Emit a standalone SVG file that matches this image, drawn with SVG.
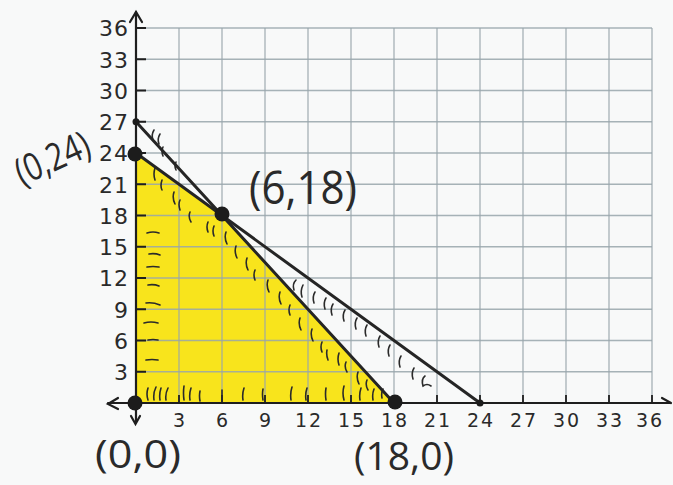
<svg xmlns="http://www.w3.org/2000/svg" width="673" height="485" viewBox="0 0 673 485">
<style>
.grid{stroke:#98a6ab;stroke-width:1.3;opacity:0.85;fill:none}
.axis{stroke:#1e1e1e;stroke-width:2.2;fill:none;stroke-linecap:round}
.tick{stroke:#1e1e1e;stroke-width:1.8}
.ylab{font-family:"DejaVu Sans",sans-serif;font-size:22px;fill:#2a2a2a;text-anchor:end;letter-spacing:1px}
.xlab{font-family:"DejaVu Sans",sans-serif;font-size:19px;fill:#2a2a2a;text-anchor:middle;letter-spacing:2px}
.line{stroke:#252525;stroke-width:3;fill:none;stroke-linecap:round}
.dot{fill:#1c1c1c}
.hand{font-family:"Open Sans","DejaVu Sans",sans-serif;fill:#2a2a2a}
.hatch{stroke:#2a2a2a;stroke-width:1.6;fill:none;stroke-linecap:round}
</style>
<rect width="673" height="485" fill="#f8f9f9"/>
<g id="feasible-region">
<polygon points="136,403 136,153 222,215.5 394,403" fill="#f8e41c"/>
</g>
<g id="grid">
<path class="grid" d="M179,28V403M222,28V403M265,28V403M308,28V403M351,28V403M394,28V403M437,28V403M480,28V403M523,28V403M566,28V403M609,28V403M652,28V403"/>
<path class="grid" d="M136,28H652M136,59.25H652M136,90.5H652M136,121.75H652M136,153H652M136,184.25H652M136,215.5H652M136,246.75H652M136,278H652M136,309.25H652M136,340.5H652M136,371.75H652"/>
</g>
<g id="axes">
<path class="axis" d="M136,12V422"/>
<path class="axis" d="M108,403H670"/>
<path class="axis" d="M130,22L136,12L142,22"/>
<path class="axis" d="M118,398L108,404L118,409"/>
<path class="axis" d="M131,416L135.5,424L140,416"/>
<path class="axis" d="M662,398L671,403"/>
<path class="tick" d="M136,28H146M136,59.25H146M136,90.5H146M136,121.75H146M136,153H146M136,184.25H146M136,215.5H146M136,246.75H146M136,278H146M136,309.25H146M136,340.5H146M136,371.75H146"/>
<path class="tick" d="M179,403V395M222,403V395M265,403V395M308,403V395M351,403V395M394,403V395M437,403V395M480,403V395M523,403V395M566,403V395M609,403V395M652,403V395"/>
</g>
<g id="y-labels">
<text class="ylab" x="129" y="36">36</text>
<text class="ylab" x="129" y="67.5">33</text>
<text class="ylab" x="129" y="98.5">30</text>
<text class="ylab" x="129" y="130">27</text>
<text class="ylab" x="129" y="161">24</text>
<text class="ylab" x="129" y="192.5">21</text>
<text class="ylab" x="129" y="223.5">18</text>
<text class="ylab" x="129" y="255">15</text>
<text class="ylab" x="129" y="286">12</text>
<text class="ylab" x="129" y="317.5">9</text>
<text class="ylab" x="129" y="348.5">6</text>
<text class="ylab" x="129" y="380">3</text>
</g>
<g id="x-labels">
<text class="xlab" x="180" y="426.5">3</text>
<text class="xlab" x="223" y="426.5">6</text>
<text class="xlab" x="266" y="426.5">9</text>
<text class="xlab" x="309" y="426.5">12</text>
<text class="xlab" x="352" y="426.5">15</text>
<text class="xlab" x="395" y="426.5">18</text>
<text class="xlab" x="438" y="426.5">21</text>
<text class="xlab" x="481" y="426.5">24</text>
<text class="xlab" x="524" y="426.5">27</text>
<text class="xlab" x="567" y="426.5">30</text>
<text class="xlab" x="610" y="426.5">33</text>
<text class="xlab" x="650" y="426.5">36</text>
</g>
<g id="hatching">
<path class="hatch" d="M147,233q6,-2 12,0M149,254q6,-1 11,1M147,267q6,-1 12,0M148,285q6,-1 11,1M146,303q7,-1 14,2M144,323q7,-2 14,0M148,340q5,-1 10,0M146,360q6,-1 12,0"/>
<path class="hatch" d="M148,400q-2,-6 0,-12M154,400q-1,-7 2,-13M160,400q-1,-6 1,-12M166,400q-1,-6 2,-12M184,400q-1,-7 0,-14M190,400q-1,-6 1,-12M200,401q-1,-5 0,-10M222,400v-10M243,400q-1,-6 1,-12M263,400q-1,-6 0,-11M291,400q-1,-7 1,-13M306,400q-1,-6 1,-12M326,400q-1,-6 0,-12M344,400q-2,-7 0,-14M360,400q-1,-6 1,-12M373,400q-1,-6 1,-11M382,398q-1,-5 1,-9"/>
<path class="hatch" d="M155,168q-2,6 0,12M162,180q-2,6 0,10M174,192q-2,6 1,12M180,200q-2,4 0,10M190,212q-2,5 1,10M208,222q-2,5 0,10M214,226q-2,5 0,10M226,232q-2,6 1,12M236,246q-2,6 1,12M247,258q-2,6 1,12M255,270q-2,5 0,10M268,280q-2,6 1,12M280,292q-2,6 1,12M290,305q-2,5 0,10M300,318q-2,6 1,12M312,329q-2,6 1,12M322,342q-2,5 0,10M327,350q-1,5 1,10M339,353q-2,6 0,12M346,362q-2,5 1,10M358,372q-2,6 1,12M367,380q-2,5 1,10"/>
<path class="hatch" d="M154,130q-3,5 -1,10M160,134q-3,5 -1,10M163,147q-2,4 0,9M176,162q-2,4 0,8"/>
<path class="hatch" d="M296,280q-4,4 -2,10M303,285q-3,6 -1,12M315,292q-3,5 -1,11M326,298q-3,5 -1,11M333,304q-3,5 -1,11M345,310q-3,5 -1,11M357,318q-3,5 -1,11M367,325q-3,5 -1,11M380,336q-3,5 -1,11M390,345q-3,5 -1,11M401,356q-3,5 -1,11M414,368q-3,5 -1,11M425,376q-4,3 -2,10q4,-3 8,0"/>
</g>
<g id="connectors">
<path id="line-27-18" class="line" d="M136,121.75L394,403"/>
<path id="line-24-24" class="line" d="M136,153L480,403"/>
</g>
<g id="point-0-27"><circle class="dot" cx="136" cy="121.75" r="3.5"/></g>
<g id="point-24-0"><circle class="dot" cx="480" cy="403" r="3.5"/></g>
<g id="point-0-24">
<circle class="dot" cx="135" cy="154" r="7.5"/>
<text class="hand" transform="translate(22,186) rotate(-24)" font-size="38" textLength="78" lengthAdjust="spacingAndGlyphs">(0,24)</text>
</g>
<g id="point-6-18">
<circle class="dot" cx="222" cy="214" r="7.5"/>
<text class="hand" x="249" y="204" font-size="46" textLength="108" lengthAdjust="spacingAndGlyphs">(6,18)</text>
</g>
<g id="point-0-0">
<circle class="dot" cx="135" cy="403" r="7.5"/>
<text class="hand" x="95" y="468" font-size="38" textLength="86" lengthAdjust="spacingAndGlyphs">(0,0)</text>
</g>
<g id="point-18-0">
<circle class="dot" cx="395" cy="402" r="7.5"/>
<text class="hand" x="354" y="470" font-size="38" textLength="100" lengthAdjust="spacingAndGlyphs">(18,0)</text>
</g>
</svg>
